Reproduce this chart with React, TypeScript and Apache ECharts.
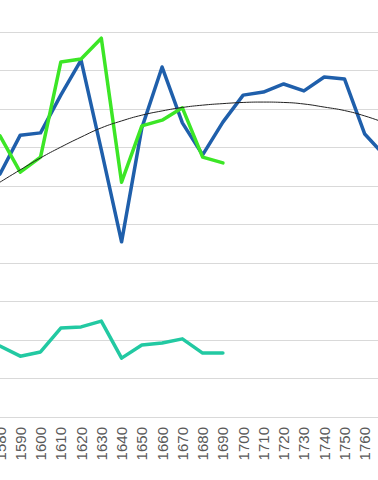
import React, { useEffect, useRef } from "react";
import * as echarts from "echarts";

const years = ["1580","1590","1600","1610","1620","1630","1640","1650","1660","1670","1680","1690","1700","1710","1720","1730","1740","1750","1760","1770"];
const blueSeries = [63.1,73.2,73.8,83.6,92.7,69.4,45.5,75.1,90.9,76.4,68.1,76.6,83.6,84.4,86.5,84.7,88.3,87.8,73.5,67.8];
const greenSeries = [73.0,63.6,67.5,92.2,93.0,98.4,61.0,75.6,77.1,80.3,67.5,66.0,null,null,null,null,null,null,null,null];
const tealSeries = [18.4,15.8,16.9,23.1,23.4,24.9,15.3,18.7,19.2,20.3,16.6,16.6,null,null,null,null,null,null,null,null];
const trendSeries = [61.0,64.2,67.3,70.1,72.7,75.1,76.9,78.4,79.5,80.4,81.0,81.4,81.7,81.8,81.7,81.3,80.5,79.6,78.2,76.4];

export default function App() {
  const ref = useRef<HTMLDivElement>(null);
  useEffect(() => {
    document.body.style.margin = "0";
    if (!ref.current) return;
    const chart = echarts.init(ref.current, null, { renderer: "svg" });
    const line = (data: (number | null)[], color: string, width: number, smooth = false) => ({
      type: "line",
      data,
      smooth,
      symbol: "none",
      lineStyle: { color, width, cap: "round", join: "round" },
      itemStyle: { color },
    });
    chart.setOption({
      animation: false,
      backgroundColor: "#ffffff",
      grid: {
        left: 0,
        right: -7,
        top: 32,
        bottom: 63,
        containLabel: false,
        outerBoundsMode: "none",
      },
      xAxis: {
        type: "category",
        data: years,
        boundaryGap: false,
        axisLine: { show: true, lineStyle: { color: "#d9d9d9", width: 1 } },
        axisTick: { show: false },
        splitLine: { show: false },
        axisLabel: {
          interval: 0,
          rotate: 90,
          margin: 10,
          color: "#595959",
          fontSize: 15,
          fontFamily: "Liberation Sans, Arial, sans-serif",
          hideOverlap: false,
          formatter: (v: string, i: number) => (i === years.length - 1 ? "" : v),
        },
      },
      yAxis: {
        type: "value",
        min: 0,
        max: 100,
        interval: 10,
        axisLine: { show: false },
        axisTick: { show: false },
        axisLabel: { show: false },
        splitLine: { show: true, lineStyle: { color: "#d9d9d9", width: 1 } },
      },
      series: [
        line(blueSeries, "#1f5fab", 3.5),
        line(greenSeries, "#3ce626", 3.5),
        line(tealSeries, "#22c9a2", 3.5),
        line(trendSeries, "#222222", 1, true),
      ],
    });
    return () => chart.dispose();
  }, []);
  return <div ref={ref} style={{ width: 378, height: 480 }} />;
}
